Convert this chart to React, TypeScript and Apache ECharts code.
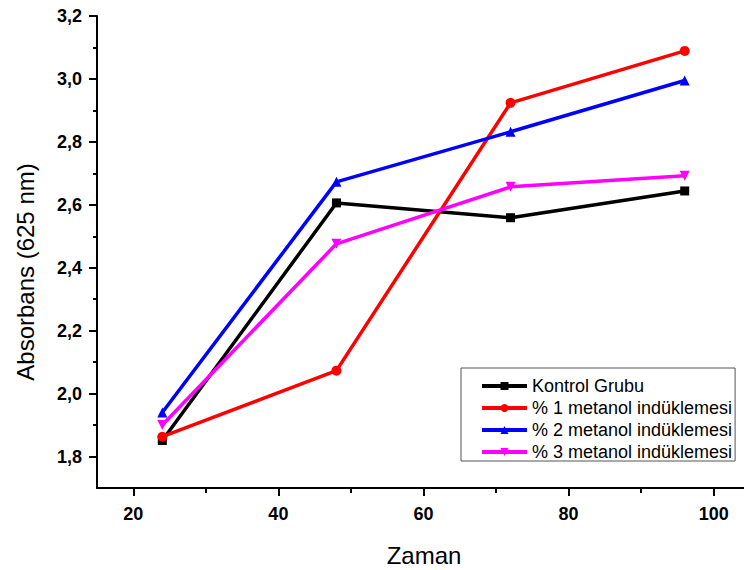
import React, { useEffect, useRef } from "react";
import * as echarts from "echarts";

const times = [24, 48, 72, 96];
const kontrol = [1.851, 2.606, 2.559, 2.644];
const metanol1 = [1.863, 2.073, 2.924, 3.089];
const metanol2 = [1.94, 2.673, 2.832, 2.995];
const metanol3 = [1.9, 2.476, 2.657, 2.692];

const seriesNames = [
  "Kontrol Grubu",
  "% 1 metanol indüklemesi",
  "% 2 metanol indüklemesi",
  "% 3 metanol indüklemesi",
];
const seriesColors = ["#000000", "#ff0000", "#0000ff", "#ff00ff"];

const xMajor = [20, 40, 60, 80, 100];
const xMinor = [30, 50, 70, 90];
const yMajor = [1.8, 2.0, 2.2, 2.4, 2.6, 2.8, 3.0, 3.2];
const yMinor = [1.9, 2.1, 2.3, 2.5, 2.7, 2.9, 3.1];

const FONT = "'Liberation Sans', Arial, sans-serif";

export default function App() {
  const ref = useRef<HTMLDivElement>(null);
  useEffect(() => {
    if (!ref.current) return;
    const chart = echarts.init(ref.current, undefined, { renderer: "svg" });
    const pair = (ys: number[]) => times.map((t, i) => [t, ys[i]]);
    const symbols = ["rect", "circle", "triangle", "triangle"];
    const rotates = [0, 0, 0, 180];
    const data = [kontrol, metanol1, metanol2, metanol3];
    const axisLineStyle = { color: "#000", width: 2 };
    chart.setOption({
      animation: false,
      textStyle: { fontFamily: FONT },
      grid: { left: 97, top: 16, right: -6, bottom: 82, containLabel: false, outerBoundsMode: "none" },
      xAxis: [
        {
          type: "value",
          min: 15,
          max: 105,
          position: "bottom",
          axisLine: { show: true, lineStyle: axisLineStyle },
          axisTick: { show: true, customValues: xMajor, length: 8, lineStyle: { color: "#000", width: 2 } },
          axisLabel: {
            customValues: xMajor,
            margin: 17,
            color: "#000",
            fontWeight: "bold",
            fontSize: 18,
            fontFamily: FONT,
          },
          splitLine: { show: false },
        },
        {
          type: "value",
          min: 15,
          max: 105,
          position: "bottom",
          axisLine: { show: false },
          axisTick: { show: true, customValues: xMinor, length: 5, lineStyle: { color: "#000", width: 2 } },
          axisLabel: { show: false },
          splitLine: { show: false },
        },
      ],
      yAxis: [
        {
          type: "value",
          min: 1.7,
          max: 3.2,
          position: "left",
          axisLine: { show: true, lineStyle: axisLineStyle },
          axisTick: { show: true, customValues: yMajor, length: 8, lineStyle: { color: "#000", width: 2 } },
          axisLabel: {
            customValues: yMajor,
            margin: 15,
            color: "#000",
            fontWeight: "bold",
            fontSize: 18,
            fontFamily: FONT,
            formatter: (v: number) => v.toFixed(1).replace(".", ","),
          },
          splitLine: { show: false },
        },
        {
          type: "value",
          min: 1.7,
          max: 3.2,
          position: "left",
          axisLine: { show: false },
          axisTick: { show: true, customValues: yMinor, length: 4, lineStyle: { color: "#000", width: 2 } },
          axisLabel: { show: false },
          splitLine: { show: false },
        },
      ],
      legend: {
        orient: "vertical",
        left: 461,
        top: 368,
        padding: [9, 3, 0, 19],
        itemWidth: 45,
        itemHeight: 10,
        itemGap: 4,
        borderColor: "#555",
        borderWidth: 1,
        backgroundColor: "#fff",
        lineStyle: { width: 4 },
        textStyle: { fontSize: 18, lineHeight: 18, color: "#000", fontFamily: FONT },
        data: seriesNames,
      },
      graphic: [
        {
          type: "text",
          x: 25,
          y: 272,
          rotation: Math.PI / 2,
          style: {
            text: "Absorbans (625 nm)",
            fontSize: 24,
            fontFamily: FONT,
            fill: "#000",
            align: "center",
            verticalAlign: "middle",
          },
        },
        {
          type: "text",
          x: 424,
          y: 555,
          style: {
            text: "Zaman",
            fontSize: 24,
            fontFamily: FONT,
            fill: "#000",
            align: "center",
            verticalAlign: "middle",
          },
        },
      ],
      series: data.map((ys, i) => ({
        name: seriesNames[i],
        type: "line",
        xAxisIndex: 0,
        yAxisIndex: 0,
        data: pair(ys),
        symbol: symbols[i],
        symbolRotate: rotates[i],
        symbolSize: i === 0 ? 9 : 10,
        showSymbol: true,
        color: seriesColors[i],
        lineStyle: { color: seriesColors[i], width: 3.5 },
        itemStyle: { color: seriesColors[i] },
        z: 2 + i,
      })),
    });
    return () => chart.dispose();
  }, []);
  return (
    <div
      ref={ref}
      style={{ position: "absolute", left: 0, top: 0, width: 744, height: 570 }}
    />
  );
}
